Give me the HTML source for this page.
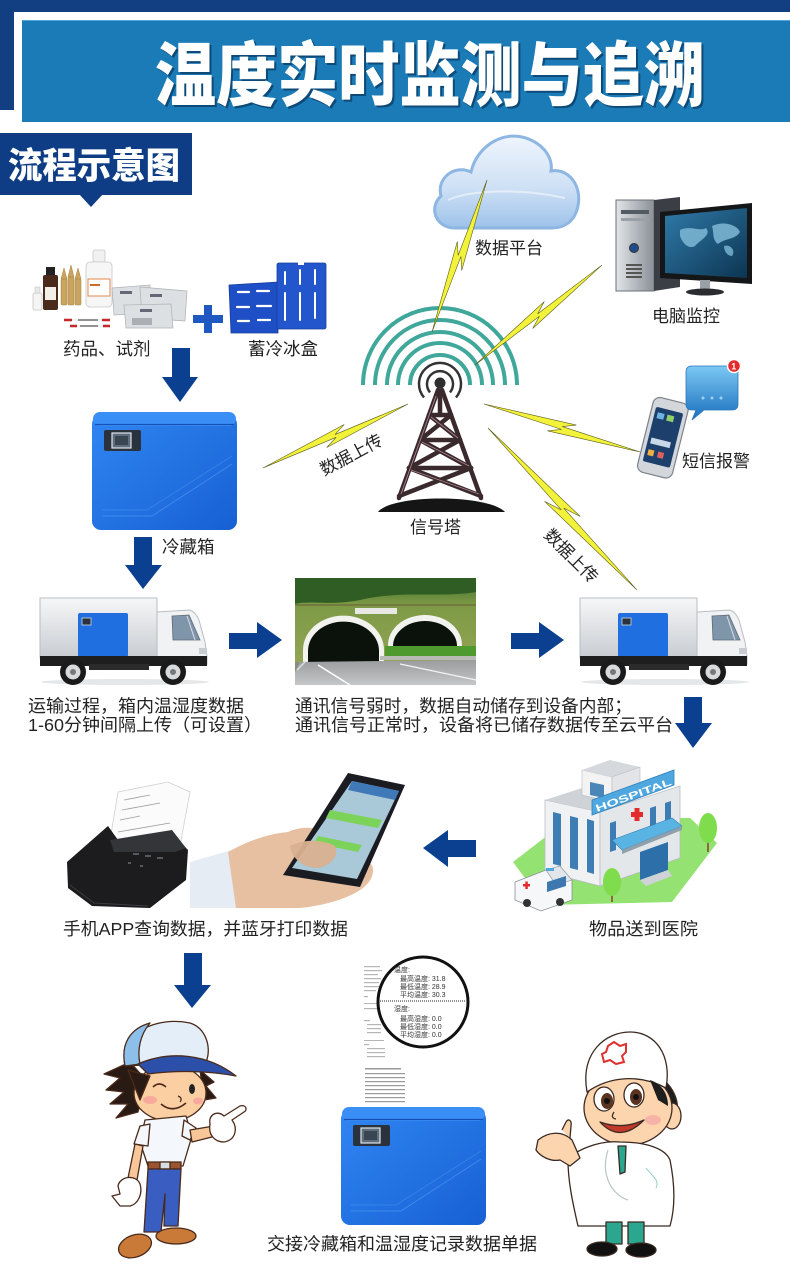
<!DOCTYPE html>
<html>
<head>
<meta charset="utf-8">
<style>
  html,body{margin:0;padding:0;background:#fff;}
  body{width:790px;height:1269px;overflow:hidden;}
  svg{display:block;}
  .t{font-family:"Liberation Sans","Noto Sans CJK SC",sans-serif;fill:#222;}
</style>
</head>
<body>
<svg width="790" height="1269" viewBox="0 0 790 1269" xmlns="http://www.w3.org/2000/svg">
  <defs>
    <linearGradient id="cloudG" x1="0" y1="0" x2="0" y2="1">
      <stop offset="0" stop-color="#eef5fd"/>
      <stop offset="0.55" stop-color="#cfe1f5"/>
      <stop offset="1" stop-color="#9ec2ea"/>
    </linearGradient>
    <linearGradient id="boxG" x1="0" y1="0" x2="1" y2="1">
      <stop offset="0" stop-color="#3186f2"/>
      <stop offset="1" stop-color="#1660d4"/>
    </linearGradient>
    <linearGradient id="cargoG" x1="0" y1="0" x2="0" y2="1">
      <stop offset="0" stop-color="#f6f7f8"/>
      <stop offset="1" stop-color="#c8ccd1"/>
    </linearGradient>
    <linearGradient id="screenG" x1="0" y1="0" x2="1" y2="1">
      <stop offset="0" stop-color="#2f7aa8"/>
      <stop offset="1" stop-color="#0d3553"/>
    </linearGradient>
    <linearGradient id="towerG" x1="0" y1="0" x2="1" y2="0">
      <stop offset="0" stop-color="#e2e5e8"/>
      <stop offset="1" stop-color="#8a9098"/>
    </linearGradient>
    <linearGradient id="bubbleG" x1="0" y1="0" x2="0" y2="1">
      <stop offset="0" stop-color="#7cc8f4"/>
      <stop offset="1" stop-color="#1a6fbe"/>
    </linearGradient>
    <linearGradient id="hillG" x1="0" y1="0" x2="0" y2="1">
      <stop offset="0" stop-color="#3f6e2c"/>
      <stop offset="0.25" stop-color="#7d9a45"/>
      <stop offset="1" stop-color="#9aa85a"/>
    </linearGradient>
    <linearGradient id="roadG" x1="0" y1="0" x2="0" y2="1">
      <stop offset="0" stop-color="#9a9c9e"/>
      <stop offset="1" stop-color="#c4c6c8"/>
    </linearGradient>
    <clipPath id="tunClip"><rect x="295" y="578" width="181" height="107"/></clipPath>
    <g id="bolt">
      <polygon points="0,0 0.58,-7 0.5,-1.5 1,0 0.42,7 0.5,1.5" />
    </g>
    <g id="coolbox">
      <rect x="0" y="3" width="145" height="115" rx="9" fill="url(#boxG)"/>
      <rect x="1" y="0" width="143" height="14" rx="7" fill="#3a8ff6"/>
      <line x1="3" y1="12.5" x2="142" y2="12.5" stroke="#1550b8" stroke-width="1.2"/>
      <rect x="12" y="18" width="37" height="21" rx="2" fill="#2a323e"/>
      <rect x="20" y="21" width="19" height="15" fill="#5f6e7e" stroke="#dfe4ea" stroke-width="1.2"/>
      <rect x="23" y="24" width="13" height="9" fill="#3a4552"/>
      <path d="M10,104 L60,104 L140,52" fill="none" stroke="#4a95f5" stroke-width="1" opacity="0.7"/>
      <path d="M10,98 L55,98 L140,44" fill="none" stroke="#4a95f5" stroke-width="1" opacity="0.5"/>
    </g>
    <g id="truck">
      <ellipse cx="86" cy="84" rx="84" ry="3" fill="#e4e6e8"/>
      <rect x="1" y="0" width="117" height="60" fill="url(#cargoG)" stroke="#b9bdc2" stroke-width="1"/>
      <rect x="39" y="15" width="50" height="44" rx="2" fill="#1f6fe0"/>
      <rect x="43" y="20" width="9" height="7" fill="#2a323e" stroke="#cfd6df" stroke-width="0.8"/>
      <path d="M118,14 L150,12 Q156,13 160,22 L166,44 L168,58 L168,66 L118,66 Z" fill="#f1f2f4" stroke="#b9bdc2" stroke-width="1"/>
      <path d="M133,18 L150,17 L161,42 L134,42 Z" fill="#7f95aa" stroke="#5f6b78" stroke-width="0.8"/>
      <line x1="148" y1="18" x2="156" y2="42" stroke="#dde" stroke-width="1"/>
      <rect x="1" y="58" width="167" height="10" fill="#1e1e1e"/>
      <rect x="50" y="66" width="60" height="6" fill="#2b2b2b"/>
      <circle cx="34" cy="74" r="13" fill="#1a1a1a"/>
      <circle cx="34" cy="74" r="7.5" fill="#d8dadc"/>
      <circle cx="34" cy="74" r="3" fill="#777"/>
      <circle cx="134" cy="74" r="13" fill="#1a1a1a"/>
      <circle cx="134" cy="74" r="7.5" fill="#d8dadc"/>
      <circle cx="134" cy="74" r="3" fill="#777"/>
      <rect x="160" y="50" width="8" height="6" fill="#c9cdd1"/>
    </g>
  </defs>

  <!-- HEADER -->
  <rect x="0" y="0" width="790" height="12" fill="#123f82"/>
  <rect x="0" y="0" width="14" height="110" fill="#123f82"/>
  <rect x="22" y="20" width="768" height="102" fill="#1a7bb6"/>
  <line x1="22" y1="20.5" x2="790" y2="20.5" stroke="#4fa6d8" stroke-width="1"/>
  <text class="t" x="157" y="102" font-size="70" font-weight="900" fill="#0d4a78" textLength="550" lengthAdjust="spacingAndGlyphs" style="fill:#0d4a78">温度实时监测与追溯</text>
  <text class="t" x="155" y="100" font-size="70" font-weight="900" textLength="550" lengthAdjust="spacingAndGlyphs" style="fill:#ffffff">温度实时监测与追溯</text>

  <!-- flow tag -->
  <rect x="0" y="133" width="192" height="62" fill="#0e3d86"/>
  <polygon points="79,194 103,194 91,207" fill="#0e3d86"/>
  <text class="t" x="8" y="178" font-size="36" font-weight="900" textLength="172" lengthAdjust="spacingAndGlyphs" style="fill:#ffffff">流程示意图</text>

  <!-- CLOUD -->
  <path d="M455,228 C436,228 428,208 441,196 C436,178 455,164 471,172 C477,145 506,128 531,140 C546,147 553,160 551,171 C569,168 582,186 578,206 C575,221 565,228 552,228 Z" fill="url(#cloudG)" stroke="#8db6e2" stroke-width="3"/>
  <path d="M448,200 C470,190 520,188 565,198" fill="none" stroke="#ffffff" stroke-width="2" opacity="0.5"/>

  <!-- COMPUTER -->
  <rect x="616" y="200" width="38" height="91" fill="url(#towerG)" stroke="#6a7078" stroke-width="1"/>
  <polygon points="654,200 680,197 680,287 654,291" fill="#3b3f45"/>
  <rect x="621" y="210" width="28" height="4" fill="#555b62"/>
  <rect x="621" y="218" width="28" height="3" fill="#9aa0a7"/>
  <circle cx="634" cy="248" r="4.5" fill="#1f4d8a" stroke="#333" stroke-width="1"/>
  <rect x="626" y="264" width="16" height="2" fill="#555"/>
  <rect x="626" y="268" width="16" height="2" fill="#555"/>
  <rect x="626" y="272" width="16" height="2" fill="#555"/>
  <rect x="626" y="276" width="16" height="2" fill="#555"/>
  <polygon points="660,212 752,203 752,284 660,278" fill="#151618"/>
  <polygon points="665,216 747,208 747,278 665,273" fill="url(#screenG)"/>
  <path d="M680,230 C690,225 700,232 706,228 C712,235 700,240 695,246 C688,250 682,242 680,236 Z" fill="#7fb8d6" opacity="0.85"/>
  <path d="M712,226 C725,220 738,226 740,232 C735,240 725,238 718,244 C712,240 714,232 712,226 Z" fill="#7fb8d6" opacity="0.85"/>
  <path d="M724,246 C730,244 736,250 732,256 C728,256 724,252 724,246 Z" fill="#7fb8d6" opacity="0.8"/>
  <rect x="700" y="280" width="10" height="11" fill="#9aa0a7"/>
  <ellipse cx="705" cy="292" rx="19" ry="3.5" fill="#2a2c30"/>

  <!-- SIGNAL ARCS -->
  <g fill="none" stroke="#3fa89a" stroke-width="4">
    <path d="M363,385 A77,77 0 0 1 517,385"/>
    <path d="M375,385 A65,65 0 0 1 505,385"/>
    <path d="M387,385 A53,53 0 0 1 493,385"/>
    <path d="M398,385 A42,42 0 0 1 482,385"/>
    <path d="M410,385 A30,30 0 0 1 470,385"/>
  </g>
  <path d="M424,397.5 A21,21 0 1 1 456,397.5" fill="none" stroke="#333" stroke-width="2.5"/>
  <path d="M430,392.4 A13,13 0 1 1 450,392.4" fill="none" stroke="#333" stroke-width="2.5"/>
  <circle cx="440" cy="383" r="5.5" fill="#2e2e2e"/>

  <!-- TOWER -->
  <g stroke="#3a2a2e" stroke-width="4.5" stroke-linecap="round" fill="none">
    <line x1="438" y1="390" x2="399" y2="498"/>
    <line x1="442" y1="390" x2="481" y2="498"/>
    <line x1="429" y1="415" x2="451" y2="415"/>
    <line x1="420" y1="440" x2="460" y2="440"/>
    <line x1="409" y1="468" x2="471" y2="468"/>
    <line x1="429" y1="415" x2="460" y2="440"/>
    <line x1="451" y1="415" x2="420" y2="440"/>
    <line x1="420" y1="440" x2="471" y2="468"/>
    <line x1="460" y1="440" x2="409" y2="468"/>
    <line x1="409" y1="468" x2="481" y2="496"/>
    <line x1="471" y1="468" x2="399" y2="496"/>
    <line x1="440" y1="392" x2="440" y2="415"/>
  </g>
  <g stroke="#c89aa4" stroke-width="0.9" fill="none" opacity="0.8">
    <line x1="436" y1="396" x2="401" y2="494"/>
    <line x1="431" y1="417" x2="458" y2="438"/>
    <line x1="422" y1="442" x2="469" y2="466"/>
    <line x1="411" y1="470" x2="479" y2="494"/>
  </g>
  <path d="M378,512 C392,494 488,494 505,512 Z" fill="#151515"/>

  <!-- LIGHTNING BOLTS -->
  <g fill="#f3f23a" stroke="#5b5c1c" stroke-width="0.6">
    <polygon transform="translate(432,332) rotate(-70.1)" points="0,0 93.8,-7 80.9,-1.5 161.7,0 67.9,7 80.9,1.5"/>
    <polygon transform="translate(475,365) rotate(-38.2)" points="0,0 93.7,-7 80.8,-1.5 161.6,0 67.9,7 80.8,1.5"/>
    <polygon transform="translate(408,404) rotate(156.2)" points="0,0 91.9,-7 79.2,-1.5 158.5,0 66.6,7 79.2,1.5"/>
    <polygon transform="translate(484,404) rotate(17.1)" points="0,0 94.5,-7 81.5,-1.5 163,0 68.5,7 81.5,1.5"/>
    <polygon transform="translate(488,428) rotate(47.4)" points="0,0 127.6,-8 110,-1.5 220,0 92.4,8 110,1.5"/>
  </g>

  <!-- PHONE + BUBBLE -->
  <g transform="rotate(14,662,437)">
    <rect x="645" y="399" width="36" height="77" rx="7" fill="#d3d7db" stroke="#7d838a" stroke-width="1.2"/>
    <rect x="649" y="409" width="28" height="56" rx="2" fill="#1d3f6c"/>
    <rect x="652" y="414" width="7" height="6" fill="#6fb3e6"/>
    <rect x="662" y="414" width="7" height="6" fill="#8fd06a"/>
    <rect x="652" y="440" width="20" height="6" fill="#c8d8e8"/>
    <rect x="652" y="452" width="6" height="6" fill="#f0b040"/>
    <rect x="662" y="452" width="6" height="6" fill="#e06060"/>
  </g>
  <path d="M692,366 L732,366 Q738,366 738,372 L738,404 Q738,410 732,410 L704,410 L692,420 L696,410 L692,410 Q686,410 686,404 L686,372 Q686,366 692,366 Z" fill="url(#bubbleG)" stroke="#2a78bc" stroke-width="0.8"/>
  <circle cx="703" cy="398" r="1.5" fill="#9ed0f4"/>
  <circle cx="712" cy="398" r="1.5" fill="#9ed0f4"/>
  <circle cx="721" cy="398" r="1.5" fill="#9ed0f4"/>
  <circle cx="734" cy="366" r="6.5" fill="#e52a2a" stroke="#fff" stroke-width="1.5"/>
  <text x="731.3" y="369.5" font-family="Liberation Sans, sans-serif" font-size="9" font-weight="bold" fill="#fff">1</text>

  <!-- labels right cluster -->
  <text class="t" x="475" y="254" font-size="17">数据平台</text>
  <text class="t" x="652" y="322" font-size="17">电脑监控</text>
  <text class="t" x="682" y="467" font-size="17">短信报警</text>
  <text class="t" x="410" y="533" font-size="17">信号塔</text>
  <text class="t" font-size="17" transform="translate(324,476) rotate(-28)">数据上传</text>
  <text class="t" font-size="17" transform="translate(543,536) rotate(45)">数据上传</text>

  <!-- MEDICINE -->
  <rect x="33" y="293" width="9" height="17" rx="1.5" fill="#f4f4f4" stroke="#c8c8c8" stroke-width="0.8"/>
  <rect x="35" y="287" width="5" height="6" fill="#e8e8e8" stroke="#c8c8c8" stroke-width="0.6"/>
  <rect x="46" y="267" width="9" height="8" fill="#222"/>
  <rect x="43" y="275" width="15" height="35" rx="2" fill="#4a2a1a"/>
  <rect x="45" y="287" width="11" height="13" fill="#f2efe8"/>
  <g fill="#c9a45e" stroke="#a8843e" stroke-width="0.5">
    <rect x="61" y="279" width="6" height="26" rx="1"/>
    <rect x="68" y="277" width="6" height="28" rx="1"/>
    <rect x="75" y="279" width="6" height="26" rx="1"/>
    <polygon points="61,279 64,268 67,279"/>
    <polygon points="68,277 71,265 74,277"/>
    <polygon points="75,279 78,268 81,279"/>
  </g>
  <rect x="93" y="250" width="12" height="12" rx="2" fill="#f0f0f0" stroke="#c8c8c8" stroke-width="0.8"/>
  <rect x="86" y="262" width="26" height="45" rx="4" fill="#f6f6f6" stroke="#c8c8c8" stroke-width="0.8"/>
  <rect x="88" y="279" width="22" height="17" fill="#fff" stroke="#e08a4a" stroke-width="1"/>
  <rect x="90" y="284" width="10" height="2" fill="#d06a2a"/>
  <g fill="#dcdfe2" stroke="#a9adb2" stroke-width="0.7" opacity="0.95">
    <polygon points="112,288 150,285 152,313 114,315"/>
    <polygon points="140,287 187,291 185,321 142,318"/>
    <polygon points="124,305 171,304 173,328 126,328"/>
  </g>
  <rect x="120" y="291" width="12" height="3" fill="#667"/>
  <rect x="150" y="294" width="12" height="3" fill="#667"/>
  <rect x="140" y="309" width="12" height="3" fill="#667"/>
  <rect x="132" y="318" width="20" height="7" fill="#8a8e92" opacity="0.6"/>
  <line x1="64" y1="320" x2="110" y2="320" stroke="#f2f2f2" stroke-width="2.5"/>
  <line x1="64" y1="320" x2="72" y2="320" stroke="#c52a2a" stroke-width="2.5"/>
  <line x1="102" y1="320" x2="110" y2="320" stroke="#c52a2a" stroke-width="2.5"/>
  <line x1="70" y1="326" x2="110" y2="326" stroke="#f2f2f2" stroke-width="2.5"/>
  <line x1="70" y1="326" x2="77" y2="326" stroke="#c52a2a" stroke-width="2.5"/>
  <line x1="103" y1="326" x2="110" y2="326" stroke="#c52a2a" stroke-width="2.5"/>
  <line x1="78" y1="320" x2="98" y2="320" stroke="#333" stroke-width="1"/>
  <line x1="80" y1="326" x2="98" y2="326" stroke="#333" stroke-width="1"/>

  <!-- PLUS -->
  <rect x="204" y="305" width="8" height="28" fill="#1e58c0"/>
  <rect x="193" y="315" width="30" height="8" fill="#1e58c0"/>

  <!-- ICE PACKS -->
  <polygon points="229,285 278,282 278,333 231,333" fill="#1f4fc6" stroke="#173c9a" stroke-width="0.8"/>
  <g stroke="#ffffff" stroke-width="2.2" stroke-linecap="round">
    <line x1="238" y1="292" x2="249" y2="292"/><line x1="257" y1="291" x2="269" y2="291"/>
    <line x1="237" y1="307" x2="249" y2="307"/><line x1="257" y1="306" x2="271" y2="306"/>
    <line x1="238" y1="321" x2="249" y2="321"/><line x1="258" y1="320" x2="270" y2="320"/>
  </g>
  <rect x="277" y="263" width="49" height="66" rx="2" fill="#2356cc" stroke="#173c9a" stroke-width="0.8"/>
  <rect x="298" y="262" width="6" height="3" fill="#fff"/>
  <g stroke="#ffffff" stroke-width="2" stroke-linecap="round">
    <line x1="285" y1="272" x2="285" y2="284"/><line x1="285" y1="293" x2="285" y2="320"/>
    <line x1="300" y1="270" x2="300" y2="284"/><line x1="300" y1="293" x2="300" y2="320"/>
    <line x1="315" y1="270" x2="315" y2="284"/><line x1="315" y1="293" x2="315" y2="318"/>
  </g>

  <text class="t" x="63" y="355" font-size="17.5">药品、试剂</text>
  <text class="t" x="248" y="355" font-size="17.5">蓄冷冰盒</text>

  <!-- ARROWS -->
  <g fill="#0b3f8f">
    <rect x="172" y="348" width="18" height="30"/>
    <polygon points="162,377 198,377 180,402"/>
    <rect x="134" y="537" width="18" height="29"/>
    <polygon points="125,565 162,565 143,589"/>
    <rect x="229" y="633" width="30" height="16"/>
    <polygon points="257,622 257,658 282,640"/>
    <rect x="511" y="633" width="30" height="16"/>
    <polygon points="539,622 539,658 564,640"/>
    <rect x="684" y="697" width="18" height="27"/>
    <polygon points="675,723 712,723 693,748"/>
    <rect x="447" y="840" width="29" height="17"/>
    <polygon points="448,830 448,867 423,848"/>
    <rect x="184" y="953" width="18" height="33"/>
    <polygon points="174,985 211,985 192,1008"/>
  </g>

  <!-- COOL BOX TOP -->
  <use href="#coolbox" x="92" y="412"/>
  <text class="t" x="162" y="553" font-size="17.5">冷藏箱</text>

  <!-- TRUCKS -->
  <use href="#truck" x="39" y="598"/>
  <use href="#truck" x="579" y="598"/>

  <!-- TUNNEL PHOTO -->
  <g clip-path="url(#tunClip)">
    <rect x="295" y="578" width="181" height="107" fill="url(#hillG)"/>
    <path d="M295,578 L476,578 L476,592 C440,598 400,590 360,600 C330,606 310,600 295,604 Z" fill="#2f5d24"/>
    <rect x="295" y="604" width="181" height="2" fill="#6a5a3a" opacity="0.5"/>
    <rect x="355" y="608" width="42" height="6" fill="#e8e8e4"/>
    <rect x="385" y="646" width="91" height="14" fill="#4f9a2e"/>
    <path d="M303,665 L303,650 A40,34 0 0 1 384,650 L384,665 Z" fill="#f2f2ee"/>
    <path d="M308,665 L308,651 A35,29 0 0 1 379,651 L379,665 Z" fill="#0b120c"/>
    <path d="M388,652 L388,645 A37,30 0 0 1 462,645 L462,652 Z" fill="#f2f2ee"/>
    <path d="M393,652 L393,646 A32,25 0 0 1 457,646 L457,652 Z" fill="#0b120c"/>
    <rect x="385" y="646" width="91" height="12" fill="#4f9a2e"/>
    <rect x="380" y="656" width="96" height="4" fill="#b8bab4"/>
    <polygon points="295,662 476,660 476,685 295,685" fill="url(#roadG)"/>
    <polygon points="295,662 300,662 295,672" fill="#8a8c80"/>
    <line x1="318" y1="665" x2="350" y2="685" stroke="#fff" stroke-width="1.5"/>
    <line x1="400" y1="664" x2="476" y2="680" stroke="#f4f4f4" stroke-width="1.2"/>
    <line x1="297" y1="670" x2="305" y2="662" stroke="#ddd" stroke-width="1.5"/>
  </g>

  <!-- bottom texts row 1 -->
  <text class="t" x="28" y="712" font-size="17.5" textLength="216" lengthAdjust="spacingAndGlyphs">运输过程，箱内温湿度数据</text>
  <text class="t" x="28" y="731" font-size="17.5" textLength="234" lengthAdjust="spacingAndGlyphs">1-60分钟间隔上传（可设置）</text>
  <text class="t" x="295" y="712" font-size="17.5" textLength="337" lengthAdjust="spacingAndGlyphs">通讯信号弱时，数据自动储存到设备内部；</text>
  <text class="t" x="295" y="731" font-size="17.5" textLength="378" lengthAdjust="spacingAndGlyphs">通讯信号正常时，设备将已储存数据传至云平台</text>

  <!-- PRINTER -->
  <polygon points="108,852 118,792 168,782 190,792 180,846" fill="#fbfbfb" stroke="#d0d0d0" stroke-width="0.8"/>
  <g stroke="#9a9a9a" stroke-width="0.8">
    <line x1="124" y1="800" x2="150" y2="795"/>
    <line x1="122" y1="810" x2="160" y2="803"/>
    <line x1="120" y1="820" x2="140" y2="816"/>
    <line x1="118" y1="832" x2="170" y2="823"/>
    <line x1="116" y1="840" x2="150" y2="834"/>
  </g>
  <path d="M67,862 L108,826 L118,840 L170,832 L188,850 L186,880 L150,908 L92,906 L68,888 Z" fill="#1c1c1e"/>
  <path d="M110,840 L172,830 L186,848 L175,852 L114,852 Z" fill="#333538"/>
  <g fill="#555a60">
    <rect x="133" y="853" width="6" height="2"/><rect x="145" y="855" width="6" height="2"/><rect x="157" y="857" width="6" height="2"/>
    <rect x="128" y="862" width="3" height="2"/><rect x="140" y="865" width="3" height="2"/>
  </g>
  <path d="M70,885 L94,903 L148,906" fill="none" stroke="#3a3c40" stroke-width="1"/>

  <!-- HAND + PHONE -->
  <polygon points="190,862 232,850 240,908 190,908" fill="#e6ecf3"/>
  <path d="M228,852 C246,842 266,834 288,832 C300,826 318,826 332,834 C345,842 342,855 330,858 C320,860 310,858 304,862 C325,866 345,856 362,858 C378,862 376,880 360,890 C345,900 320,906 300,908 L236,908 Z" fill="#e7c0a2"/>
  <polygon points="348,773 405,785 360,887 283,875" fill="#1a1c22"/>
  <polygon points="352,781 399,791 357,879 292,868" fill="#a9c8d8"/>
  <polygon points="352,781 399,791 395,800 348,790" fill="#3f79b8"/>
  <polygon points="330,810 382,820 378,828 326,818" fill="#7cd35a"/>
  <polygon points="318,836 362,845 358,852 314,843" fill="#7cd35a"/>
  <path d="M290,846 C305,838 325,840 335,846 C340,856 330,866 318,868 C305,868 292,860 290,846 Z" fill="#d9b190" opacity="0.95"/>

  <!-- HOSPITAL -->
  <polygon points="513,862 570,818 690,818 717,843 672,902 545,905" fill="#94e272"/>
  <polygon points="545,800 600,812 600,886 545,872" fill="#f0f1f3" stroke="#b8bcc2" stroke-width="0.8"/>
  <polygon points="545,800 582,788 637,800 600,812" fill="#cfd3d8"/>
  <polygon points="600,812 680,786 680,858 600,886" fill="#e4e7ea" stroke="#b8bcc2" stroke-width="0.8"/>
  <polygon points="582,770 612,777 612,802 582,795" fill="#f3f3f4" stroke="#b8bcc2" stroke-width="0.6"/>
  <polygon points="582,770 610,760 640,767 612,777" fill="#d5d8dc"/>
  <polygon points="612,777 640,767 640,792 612,802" fill="#e2e4e7" stroke="#b8bcc2" stroke-width="0.6"/>
  <polygon points="590,782 604,785 604,798 590,795" fill="#4b86b8"/>
  <g fill="#3e7db3">
    <polygon points="553,812 561,814 561,866 553,864"/>
    <polygon points="570,816 578,818 578,870 570,868"/>
    <polygon points="587,819 594,821 594,874 587,872"/>
    <polygon points="650,808 656,806 656,838 650,840"/>
    <polygon points="665,803 671,801 671,833 665,835"/>
    <polygon points="610,823 616,821 616,850 610,852"/>
  </g>
  <polygon points="592,800 674,770 674,785 592,815" fill="#4ea7df" stroke="#2f7fb8" stroke-width="0.8"/>
  <text transform="translate(597,812) rotate(-20)" font-family="Liberation Sans, sans-serif" font-size="10" font-weight="bold" fill="#fff" textLength="80" lengthAdjust="spacingAndGlyphs">HOSPITAL</text>
  <rect x="631" y="812" width="12" height="5" fill="#e42b2b"/>
  <rect x="634.5" y="808" width="5" height="13" fill="#e42b2b"/>
  <polygon points="612,840 672,818 682,826 622,850" fill="#59b3e3" stroke="#2f7fb8" stroke-width="0.6"/>
  <polygon points="622,850 682,826 682,830 622,854" fill="#8fa0ad"/>
  <polygon points="640,852 668,842 668,870 640,880" fill="#2c6fa9"/>
  <polygon points="640,880 668,870 672,876 646,886" fill="#cfd3d8"/>
  <!-- ambulance -->
  <polygon points="515,882 546,870 572,880 572,900 541,911 515,900" fill="#f6f7f9" stroke="#8a9098" stroke-width="0.8"/>
  <polygon points="546,870 560,866 572,880 556,885" fill="#e2e6ea" stroke="#8a9098" stroke-width="0.6"/>
  <polygon points="547,882 566,876 566,886 547,892" fill="#3e78b0"/>
  <rect x="523" y="884" width="7" height="2.5" fill="#e42b2b"/>
  <rect x="525.3" y="881.5" width="2.5" height="7.5" fill="#e42b2b"/>
  <rect x="546" y="868" width="8" height="3" fill="#4ea7df"/>
  <circle cx="527" cy="903" r="4" fill="#333"/>
  <circle cx="560" cy="902" r="4" fill="#333"/>
  <!-- trees -->
  <rect x="707" y="835" width="2" height="17" fill="#8a6a3a"/>
  <ellipse cx="708" cy="828" rx="9" ry="15" fill="#7fdc4c"/>
  <rect x="611" y="888" width="2" height="14" fill="#8a6a3a"/>
  <ellipse cx="612" cy="882" rx="9" ry="14" fill="#7fdc4c"/>

  <text class="t" x="63" y="935" font-size="17.5" textLength="285" lengthAdjust="spacingAndGlyphs">手机APP查询数据，并蓝牙打印数据</text>
  <text class="t" x="589" y="935" font-size="17.5" textLength="109" lengthAdjust="spacingAndGlyphs">物品送到医院</text>

  <!-- RECEIPT -->
  <g fill="#b5b5b5">
    <rect x="364" y="966" width="16" height="1.2"/><rect x="364" y="970" width="18" height="1.2"/>
    <rect x="364" y="974" width="14" height="1.2"/><rect x="364" y="978" width="17" height="1.2"/>
    <rect x="364" y="982" width="15" height="1.2"/><rect x="364" y="986" width="18" height="1.2"/>
    <rect x="364" y="990" width="12" height="1.2"/><rect x="364" y="996" width="4" height="1.2"/>
    <rect x="364" y="1003" width="18" height="1"/><rect x="364" y="1008" width="16" height="1.2"/>
    <rect x="364" y="1020" width="6" height="1.2"/><rect x="367" y="1024" width="14" height="1.2"/>
    <rect x="367" y="1028" width="14" height="1.2"/><rect x="367" y="1032" width="14" height="1.2"/>
    <rect x="364" y="1040" width="20" height="1"/>
    <rect x="364" y="1044" width="5" height="1.2"/><rect x="367" y="1048" width="18" height="1.2"/>
    <rect x="367" y="1052" width="18" height="1.2"/><rect x="367" y="1056" width="18" height="1.2"/>
  </g>
  <g fill="#9a9a9a">
    <rect x="365" y="1068" width="36" height="1.5"/>
    <rect x="365" y="1073" width="40" height="1.2"/><rect x="365" y="1077" width="40" height="1.2"/>
    <rect x="365" y="1081" width="40" height="1.2"/><rect x="365" y="1085" width="40" height="1.2"/>
    <rect x="365" y="1089" width="40" height="1.2"/><rect x="365" y="1093" width="40" height="1.2"/>
    <rect x="365" y="1097" width="40" height="1.2"/><rect x="365" y="1101" width="40" height="1.2"/>
  </g>
  <circle cx="423" cy="1002" r="45" fill="#ffffff" stroke="#111" stroke-width="3"/>
  <g font-family="Liberation Sans, 'Noto Sans CJK SC', sans-serif" font-size="7" fill="#333">
    <text x="394" y="972">温度:</text>
    <text x="400" y="981">最高温度: 31.8</text>
    <text x="400" y="989">最低温度: 28.9</text>
    <text x="400" y="997">平均温度: 30.3</text>
    <text x="394" y="1011">湿度:</text>
    <text x="400" y="1021">最高湿度: 0.0</text>
    <text x="400" y="1029">最低湿度: 0.0</text>
    <text x="400" y="1037">平均湿度: 0.0</text>
  </g>
  <line x1="380" y1="1001" x2="466" y2="1001" stroke="#555" stroke-width="1.2" stroke-dasharray="1,1"/>

  <!-- COOL BOX BOTTOM -->
  <use href="#coolbox" x="341" y="1107"/>
  <text class="t" x="267" y="1250" font-size="17.5" textLength="270" lengthAdjust="spacingAndGlyphs">交接冷藏箱和温湿度记录数据单据</text>

  <!-- BOY -->
  <g stroke="#4a2a1a" stroke-width="1.3" stroke-linejoin="round">
    <polygon points="130,1062 104,1074 120,1078 106,1090 124,1092 110,1104 128,1104 116,1118 138,1112 146,1080" fill="#2a1a14"/>
    <polygon points="200,1070 214,1082 206,1086 216,1098 204,1100" fill="#2a1a14"/>
    <ellipse cx="170" cy="1093" rx="36" ry="28" fill="#fbcfa2"/>
    <polygon points="128,1070 150,1076 140,1100" fill="#2a1a14"/>
    <path d="M125,1066 C118,1032 158,1016 190,1023 C206,1028 212,1048 206,1062 Z" fill="#e3eef8"/>
    <path d="M125,1066 C120,1042 132,1028 150,1023 C140,1035 137,1050 140,1064 Z" fill="#8cbfea"/>
    <path d="M138,1064 C170,1050 208,1054 236,1076 C210,1071 178,1070 148,1074 Z" fill="#2c4fa9"/>
    <path d="M153,1087 Q159,1081 166,1087" fill="none" stroke-width="1.6"/>
    <ellipse cx="192" cy="1089" rx="3" ry="5" fill="#222" stroke="none"/>
    <path d="M161,1104 Q173,1114 186,1103" fill="none" stroke-width="1.6"/>
    <path d="M178,1096 Q183,1098 180,1102" fill="none"/>
    <path d="M145,1120 L186,1116 L192,1136 L183,1166 L148,1166 L140,1142 Z" fill="#f4f8fd"/>
    <polygon points="140,1126 150,1124 148,1146 134,1144" fill="#f4f8fd"/>
    <polygon points="184,1120 196,1128 190,1140 182,1136" fill="#f4f8fd"/>
    <polygon points="135,1144 143,1146 137,1180 128,1178" fill="#f7c79a"/>
    <polygon points="190,1130 214,1126 216,1136 192,1142" fill="#f7c79a"/>
    <path d="M118,1186 C120,1176 136,1174 140,1184 C143,1194 138,1204 130,1206 L120,1206 L112,1196 L120,1194 Z" fill="#ffffff"/>
    <path d="M210,1124 C208,1114 218,1110 224,1116 L240,1106 C246,1104 248,1110 244,1112 L232,1120 C238,1128 236,1140 224,1142 C214,1142 208,1134 210,1124 Z" fill="#ffffff"/>
    <rect x="148" y="1162" width="33" height="7" fill="#9a5530"/>
    <rect x="160" y="1162" width="10" height="7" fill="#d8dde2"/>
    <path d="M148,1169 L181,1169 L178,1226 L164,1226 L165,1194 L161,1232 L144,1232 Z" fill="#3a5dc2"/>
    <ellipse cx="135" cy="1246" rx="17" ry="11" transform="rotate(-20,135,1246)" fill="#c97a38"/>
    <ellipse cx="176" cy="1236" rx="20" ry="8" fill="#c97a38"/>
  </g>
  <ellipse cx="150" cy="1100" rx="7" ry="4" fill="#f59a9a" opacity="0.7"/>
  <ellipse cx="198" cy="1101" rx="5" ry="3.5" fill="#f59a9a" opacity="0.7"/>

  <!-- DOCTOR -->
  <g stroke="#3a2a22" stroke-width="1.3" stroke-linejoin="round">
    <path d="M648,1072 C670,1078 682,1100 676,1118 L660,1108 Z" fill="#1e1e1e"/>
    <ellipse cx="672" cy="1116" rx="9" ry="13" fill="#fcd4ad"/>
    <ellipse cx="628" cy="1108" rx="44" ry="37" fill="#fcd4ad"/>
    <path d="M587,1092 C580,1052 606,1032 630,1032 C656,1032 672,1056 666,1088 C640,1074 610,1076 587,1092 Z" fill="#ffffff"/>
    <path d="M650,1080 C662,1084 668,1094 668,1106 L658,1100 Z" fill="#1e1e1e" stroke="none"/>
    <ellipse cx="604" cy="1099" rx="10" ry="12" fill="#ffffff"/>
    <ellipse cx="634" cy="1095" rx="10" ry="12" fill="#ffffff"/>
    <ellipse cx="607" cy="1101" rx="6" ry="8" fill="#5a3420" stroke="none"/>
    <ellipse cx="636" cy="1097" rx="6" ry="8" fill="#5a3420" stroke="none"/>
    <circle cx="607" cy="1101" r="3" fill="#111" stroke="none"/>
    <circle cx="636" cy="1097" r="3" fill="#111" stroke="none"/>
    <path d="M614,1112 Q610,1118 616,1119" fill="none"/>
    <path d="M600,1122 Q620,1144 644,1120 Q622,1130 600,1122 Z" fill="#c0392b"/>
    <path d="M568,1160 C575,1150 600,1140 620,1142 C645,1142 665,1148 670,1160 C676,1190 674,1212 670,1226 L578,1226 C572,1200 568,1180 568,1160 Z" fill="#ffffff"/>
    <polygon points="618,1146 626,1146 625,1172 620,1174" fill="#2aa78e"/>
    <path d="M538,1140 C548,1132 562,1130 572,1140 L580,1158 L570,1166 L560,1160 C550,1162 540,1156 536,1150 Z" fill="#fcd4ad"/>
    <path d="M562,1130 L566,1122 C568,1118 572,1120 571,1126 L570,1138" fill="#fcd4ad"/>
    <rect x="606" y="1222" width="16" height="22" fill="#2aa78e"/>
    <rect x="628" y="1222" width="16" height="22" fill="#2aa78e"/>
    <ellipse cx="602" cy="1249" rx="15" ry="7" fill="#111"/>
    <ellipse cx="641" cy="1250" rx="15" ry="7" fill="#111"/>
  </g>
  <path d="M608,1046 L614,1042 L620,1046 L626,1044 L626,1052 L622,1056 L624,1062 L616,1064 L610,1060 L604,1062 L602,1054 L606,1052 Z" fill="none" stroke="#e03030" stroke-width="2"/>
  <ellipse cx="653" cy="1120" rx="8" ry="5" fill="#f6a5a5" opacity="0.7"/>
  <path d="M608,1150 C600,1175 612,1195 628,1200" fill="none" stroke="#b8c4c8" stroke-width="1.2"/>
  <path d="M646,1168 C652,1176 660,1180 656,1188" fill="none" stroke="#8fd0c8" stroke-width="1"/>
</svg>
</body>
</html>
